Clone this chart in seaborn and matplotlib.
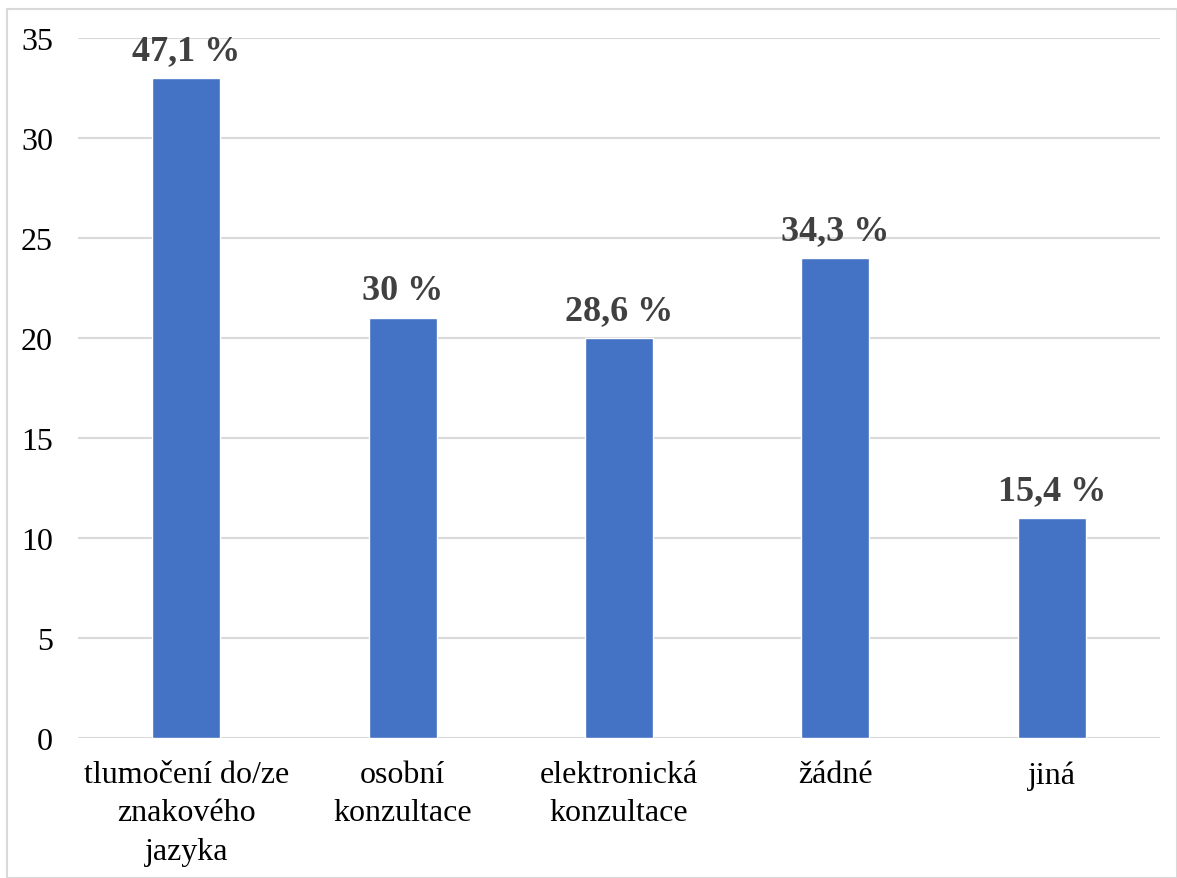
import matplotlib
matplotlib.use("Agg")
import matplotlib.pyplot as plt
import seaborn as sns
import pandas as pd
from matplotlib.patches import Rectangle

categories = ["tlumočení do/ze\nznakového\njazyka", "osobní\nkonzultace",
              "elektronická\nkonzultace", "žádné", "jiná"]
values = [33, 21, 20, 24, 11]
labels = ["47,1 %", "30 %", "28,6 %", "34,3 %", "15,4 %"]

sns.set_theme(style="white")
plt.rcParams['font.family'] = ['Liberation Serif', 'DejaVu Serif']

df = pd.DataFrame({"cat": categories, "val": values})

fig = plt.figure(figsize=(11.77, 8.79), dpi=100)
ax = fig.add_axes([78/1177, 1-739/879, (1160-78)/1177, 700/879])

sns.barplot(data=df, x="cat", y="val", color="#4472C4", saturation=1,
            width=0.314, ax=ax, zorder=3)

ax.set_ylim(0, 35)
ax.set_xlim(-0.5, 4.5)
ax.set_yticks(range(0, 36, 5))
ax.grid(axis="y", color="#d9d9d9", linewidth=1.5, zorder=0)
ax.set_axisbelow(True)
for s in ax.spines.values():
    s.set_visible(False)
ax.set_xlabel("")
ax.set_ylabel("")
ax.tick_params(axis="y", length=0, pad=18, labelsize=23, labelcolor="#000000")
ax.tick_params(axis="x", length=0, pad=16, labelsize=23, labelcolor="#000000")
for t in ax.get_xticklabels():
    t.set_linespacing(1.42)

for i, (v, lab) in enumerate(zip(values, labels)):
    ax.annotate(lab, (i, v), xytext=(0, 8), textcoords="offset points",
                ha="center", va="bottom", fontsize=26, fontweight="bold",
                color="#404040")

fig.patches.append(Rectangle((7/1177, 0), (1177-7)/1177, 1-10/879,
                             transform=fig.transFigure, fill=False,
                             edgecolor="#d9d9d9", linewidth=1.5))

fig.savefig("out.png", dpi=100)
